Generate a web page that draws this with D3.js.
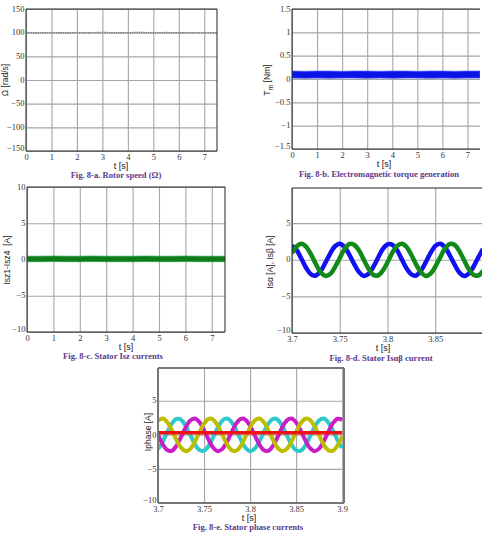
<!DOCTYPE html>
<html><head><meta charset="utf-8">
<script src="https://cdn.jsdelivr.net/npm/d3@7"></script>
<style>body{margin:0;background:#fff}svg{display:block}</style>
</head><body>
<svg id="c" width="482" height="535"></svg>
<script>
// ---------- DATA ----------
const slowT = [0,0.5,1,1.5,2,2.5,3,3.5,4,4.5,5,5.5,6,6.5,7,7.5];
const speedVal = [100.3,99.8,100.1,99.7,100.2,99.9,100.4,99.8,100.1,100.3,99.9,100.2,99.8,100.1,100.0,100.2];
const torqueLow = [0.02,0.015,0.02,0.015,0.02,0.02,0.015,0.02,0.015,0.02,0.02,0.015,0.02,0.015,0.02,0.02];
const torqueHigh = [0.17,0.165,0.17,0.17,0.165,0.17,0.17,0.165,0.17,0.17,0.165,0.17,0.17,0.165,0.17,0.17];
const iszLow = [-0.3,-0.3,-0.28,-0.3,-0.3,-0.28,-0.3,-0.3,-0.3,-0.28,-0.3,-0.3,-0.28,-0.3,-0.3,-0.3];
const iszHigh = [0.45,0.45,0.47,0.45,0.45,0.47,0.45,0.45,0.45,0.47,0.45,0.45,0.47,0.45,0.45,0.45];

const fastT = [3.700,3.705,3.710,3.715,3.720,3.725,3.730,3.735,3.740,3.745,3.750,3.755,3.760,3.765,3.770,3.775,3.780,3.785,3.790,3.795,3.800,3.805,3.810,3.815,3.820,3.825,3.830,3.835,3.840,3.845,3.850,3.855,3.860,3.865,3.870,3.875,3.880,3.885,3.890,3.895,3.900];
const isAlpha = [1.9,1.3,0.1,-1.15,-2.0,-2.15,-1.55,-0.4,0.85,1.85,2.2,1.75,0.7,-0.55,-1.65,-2.2,-1.95,-1.0,0.25,1.45,2.1,2.05,1.3,0.05,-1.2,-2.0,-2.15,-1.5,-0.35,0.9,1.9,2.2,1.75,0.65,-0.6,-1.7,-2.2,-1.9,-0.95,0.3,1.5];
const isBeta = [0.9,1.85,2.2,1.75,0.7,-0.6,-1.7,-2.2,-1.95,-1.0,0.25,1.45,2.15,2.05,1.3,0.05,-1.2,-2.05,-2.15,-1.5,-0.35,0.95,1.9,2.2,1.75,0.65,-0.65,-1.7,-2.2,-1.9,-0.95,0.3,1.5,2.15,2.05,1.25,0.0,-1.25,-2.05,-2.15,-1.5];
const iMagenta = [0,-1.35,-2.24,-2.34,-1.62,-0.34,1.06,2.09,2.39,1.86,0.68,-0.74,-1.9,-2.4,-2.06,-1.0,0.4,1.67,2.35,2.21,1.31,-0.06,-1.4,-2.26,-2.32,-1.58,-0.29,1.11,2.12,2.39,1.82,0.63,-0.79,-1.93,-2.4,-2.03,-0.95,0.46,1.71,2.36,2.19];
const iYellow = [2.08,2.39,1.87,0.7,-0.72,-1.88,-2.39,-2.07,-1.02,0.38,1.65,2.35,2.22,1.32,-0.04,-1.38,-2.25,-2.33,-1.6,-0.31,1.09,2.11,2.39,1.84,0.65,-0.77,-1.92,-2.4,-2.04,-0.97,0.44,1.69,2.36,2.2,1.28,-0.09,-1.43,-2.27,-2.32,-1.55,-0.25];
const iCyan = [-2.08,-1.04,0.37,1.64,2.34,2.22,1.33,-0.02,-1.37,-2.24,-2.33,-1.61,-0.32,1.08,2.1,2.38,1.85,0.66,-0.75,-1.9,-2.4,-2.05,-0.99,0.42,1.67,2.35,2.21,1.29,-0.08,-1.42,-2.26,-2.32,-1.57,-0.27,1.12,2.12,2.38,1.81,0.61,-0.81,-1.94];
const redT = [3.70,3.75,3.80,3.85,3.90];
const iRed = [0.3,0.3,0.3,0.3,0.3];

const slowTicks = [0,1,2,3,4,5,6,7];
const fastTicksD = [3.7,3.75,3.8,3.85];
const fastTicksE = [3.7,3.75,3.8,3.85,3.9];
const speedTicks = [-150,-100,-50,0,50,100,150];
const torqueTicks = [-1.5,-1,-0.5,0,0.5,1,1.5];
const iszTicks = [-10,-5,0,5,10];
const curTicks = [-10,-5,0,5];

// ---------- DRAW ----------
const svg = d3.select('#c');
const SERIF = "'Liberation Serif','Times New Roman','DejaVu Serif',serif";
const SANS = "'Liberation Sans',Arial,sans-serif";
let clipId = 0;

function panel(cfg){
  const x = d3.scaleLinear().domain(cfg.xd).range([cfg.l, cfg.r]);
  const y = d3.scaleLinear().domain(cfg.yd).range([cfg.b, cfg.t]);
  const g = svg.append('g');
  const id = 'clip' + (clipId++);
  g.append('clipPath').attr('id', id).append('rect')
    .attr('x', cfg.l).attr('y', cfg.t).attr('width', cfg.r - cfg.l).attr('height', cfg.b - cfg.t);

  const ax = g.append('g').attr('transform', `translate(0,${cfg.b})`)
    .call(d3.axisBottom(x).tickValues(cfg.xt).tickSize(-(cfg.b - cfg.t)).tickPadding(3)
      .tickFormat(d => d3.format('')(+d.toFixed(2))));
  const ay = g.append('g').attr('transform', `translate(${cfg.l},0)`)
    .call(d3.axisLeft(y).tickValues(cfg.yt).tickSize(-(cfg.r - cfg.l)).tickPadding(1.5)
      .tickFormat(d => d3.format('')(+d.toFixed(2))));
  [ax, ay].forEach(a => {
    a.select('.domain').remove();
    a.selectAll('line').attr('stroke', cfg.gridColor || '#a6a6a6').attr('stroke-width', 1.1);
    a.selectAll('text').attr('font-family', SERIF).attr('font-size', 8.5).attr('fill', '#333');
  });
  ay.selectAll('text').attr('dy', (d, i) => i === 0 ? '-0.1em' : '0.26em');

  const plot = g.append('g').attr('clip-path', `url(#${id})`);
  cfg.draw(plot, x, y);

  // frame
  const fc = cfg.frameColor || '#222', fw = cfg.frameWidth || 1;
  g.append('line').attr('x1', cfg.l).attr('x2', cfg.l).attr('y1', cfg.t).attr('y2', cfg.b).attr('stroke', fc).attr('stroke-width', fw);
  g.append('line').attr('x1', cfg.l).attr('x2', cfg.r).attr('y1', cfg.b).attr('y2', cfg.b).attr('stroke', fc).attr('stroke-width', fw);
  g.append('line').attr('x1', cfg.l).attr('x2', cfg.r).attr('y1', cfg.t).attr('y2', cfg.t).attr('stroke', fc).attr('stroke-width', fw);
  if (cfg.rightFrame) g.append('line').attr('x1', cfg.r).attr('x2', cfg.r).attr('y1', cfg.t).attr('y2', cfg.b).attr('stroke', fc).attr('stroke-width', fw);

  // x label
  g.append('text').attr('x', cfg.xlx).attr('y', cfg.xly).attr('text-anchor', 'middle')
    .attr('font-family', SANS).attr('font-size', 9).attr('fill', '#222').text('t [s]');
  // y label
  const yl = g.append('text').attr('transform', `translate(${cfg.ylx},${cfg.yly}) rotate(-90)`)
    .attr('text-anchor', 'middle').attr('font-family', SANS).attr('font-size', 8.5).attr('fill', '#222')
    .style('white-space', 'pre');
  cfg.ylabel(yl);
  // caption
  g.append('text').attr('x', cfg.cx).attr('y', cfg.cy).attr('text-anchor', 'middle')
    .attr('font-family', SERIF).attr('font-weight', 'bold').attr('font-size', 8.6).attr('fill', '#5a3a8c')
    .text(cfg.caption);
}

const lineGen = (x, y, xs) => d3.line().x((d, i) => x(xs[i])).y(d => y(d)).curve(d3.curveCatmullRom);

// a) rotor speed
panel({l:26, r:217, t:9, b:151, xd:[0,7.5], yd:[-150,150], xt:slowTicks, yt:speedTicks, rightFrame:true,
  xlx:121, xly:169, ylx:8, yly:80, cx:116, cy:178, caption:'Fig. 8-a. Rotor speed (Ω)',
  ylabel: t => t.text('Ω [rad/s]'),
  draw: (p, x, y) => {
    p.append('path').datum(speedVal).attr('d', lineGen(x, y, slowT)).attr('fill', 'none')
      .attr('stroke', '#7d7d7d').attr('stroke-width', 1.4).attr('stroke-dasharray', '1.5,0.8');
  }});

// b) torque
panel({l:292, r:480, t:9, b:149, xd:[0,7.5], yd:[-1.5,1.5], xt:slowTicks, yt:torqueTicks, rightFrame:false,
  xlx:384, xly:167, ylx:270, yly:80, cx:379, cy:177, caption:'Fig. 8-b. Electromagnetic torque generation',
  ylabel: t => { t.append('tspan').text('T'); t.append('tspan').attr('dy', 3).attr('font-size', 7).text('m');
                 t.append('tspan').attr('dy', -3).text(' [Nm]'); },
  draw: (p, x, y) => {
    const area = d3.area().x((d, i) => x(slowT[i])).y0((d, i) => y(torqueLow[i])).y1(d => y(d));
    p.append('path').datum(torqueHigh).attr('d', area).attr('fill', '#0a14e6')
      .attr('stroke', '#4a5cf0').attr('stroke-width', 0.8);
  }});

// c) Isz currents
panel({l:27, r:225, t:187, b:332, xd:[0,7.5], yd:[-10,10], xt:slowTicks, yt:iszTicks, rightFrame:true,
  xlx:126, xly:350, ylx:10, yly:260, cx:113, cy:359, caption:'Fig. 8-c. Stator Isz currents',
  ylabel: t => t.text('Isz1-Isz4  [A]'),
  draw: (p, x, y) => {
    const area = d3.area().x((d, i) => x(slowT[i])).y0((d, i) => y(iszLow[i])).y1(d => y(d));
    p.append('path').datum(iszHigh).attr('d', area).attr('fill', '#0b7d1c')
      .attr('stroke', '#2f9a3a').attr('stroke-width', 0.8);
  }});

// d) Isalpha beta
panel({l:292, r:483, t:188, b:333, xd:[3.7,3.9], yd:[-10,9.8], xt:fastTicksD, yt:curTicks, rightFrame:false,
  xlx:383, xly:351, ylx:273, yly:262, cx:381, cy:360.5, caption:'Fig. 8-d. Stator Isαβ current',
  ylabel: t => t.text('Isα [A], Isβ [A]'),
  draw: (p, x, y) => {
    p.append('path').datum(isAlpha).attr('d', lineGen(x, y, fastT)).attr('fill', 'none')
      .attr('stroke', '#1010f0').attr('stroke-width', 4.5).attr('stroke-linejoin', 'round');
    p.append('path').datum(isBeta).attr('d', lineGen(x, y, fastT)).attr('fill', 'none')
      .attr('stroke', '#118a18').attr('stroke-width', 4.5).attr('stroke-linejoin', 'round');
  }});

// e) phase currents
panel({l:158, r:344, t:368, b:503, xd:[3.7,3.902], yd:[-10,9.8], xt:fastTicksE, yt:curTicks, rightFrame:true,
  frameColor:'#777', frameWidth:2,
  xlx:249, xly:521, ylx:151, yly:432, cx:248, cy:530, caption:'Fig. 8-e. Stator phase currents',
  ylabel: t => t.text('Iphase [A]'),
  draw: (p, x, y) => {
    [[iCyan, '#2ec8c8'], [iMagenta, '#c81ec8'], [iYellow, '#bcbc00']].forEach(([v, c]) => {
      p.append('path').datum(v).attr('d', lineGen(x, y, fastT)).attr('fill', 'none')
        .attr('stroke', c).attr('stroke-width', 4).attr('stroke-linejoin', 'round');
    });
    p.append('path').datum(iRed).attr('d', lineGen(x, y, redT)).attr('fill', 'none')
      .attr('stroke', '#ee1111').attr('stroke-width', 3.5);
  }});
</script>
</body></html>
